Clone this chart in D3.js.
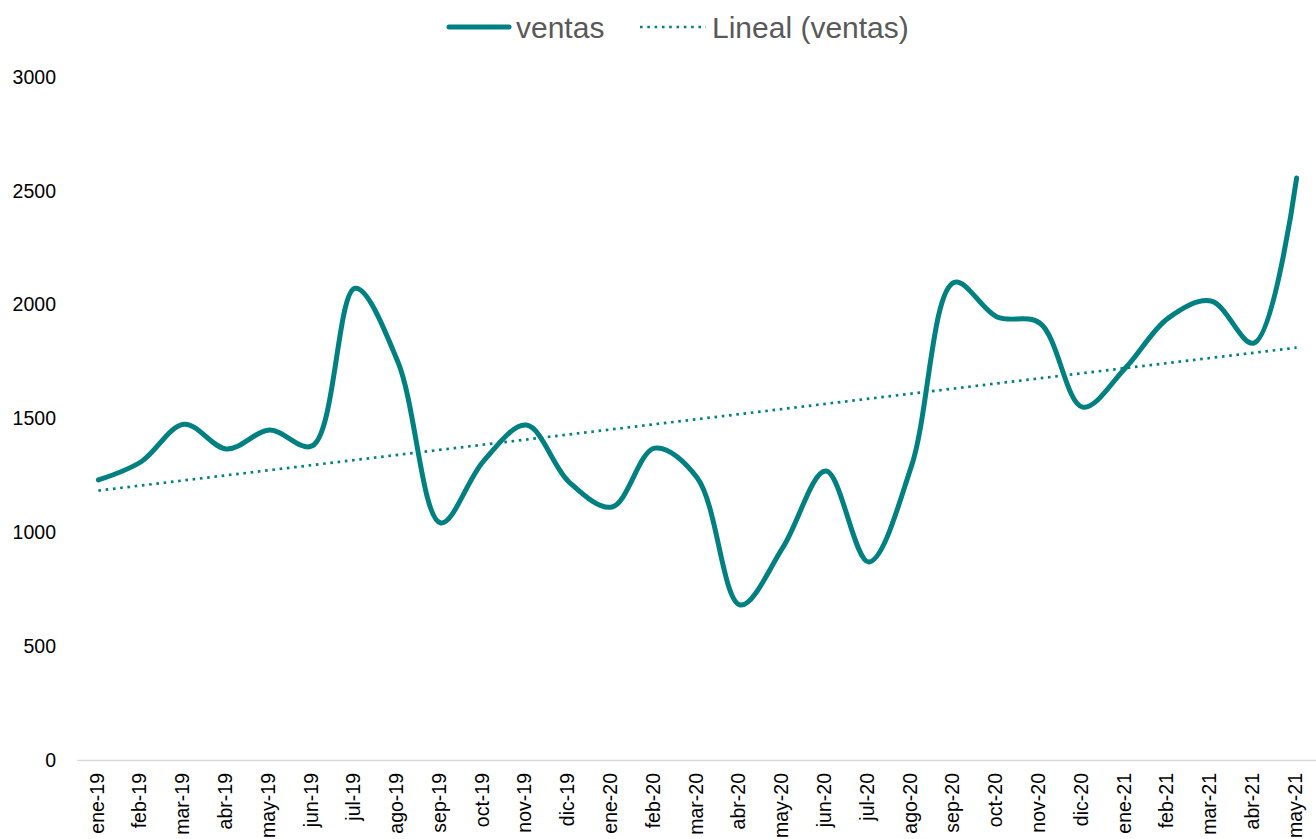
<!DOCTYPE html>
<html>
<head>
<meta charset="utf-8">
<script src="https://cdn.jsdelivr.net/npm/d3@7"></script>
<style>
  body { margin: 0; background: #fff; }
  svg { display: block; font-family: "Liberation Sans", Arial, sans-serif; }
</style>
</head>
<body>
<script>
'use strict';

// months on the category axis
const months = ["ene-19", "feb-19", "mar-19", "abr-19", "may-19", "jun-19", "jul-19", "ago-19",
  "sep-19", "oct-19", "nov-19", "dic-19", "ene-20", "feb-20", "mar-20", "abr-20", "may-20",
  "jun-20", "jul-20", "ago-20", "sep-20", "oct-20", "nov-20", "dic-20", "ene-21", "feb-21",
  "mar-21", "abr-21", "may-21"];

// ventas
const ventas = [1230, 1310, 1475, 1366, 1449, 1380, 2072, 1748, 1041, 1313, 1471, 1221,
  1111, 1370, 1238, 681, 935, 1269, 870, 1291, 2098, 1946, 1919, 1550, 1722, 1941, 2016,
  1831, 2556];

const yTicks = [0, 500, 1000, 1500, 2000, 2500, 3000];

const m = { width: 1316, height: 839, left: 77, right: 1318, top: 77, bottom: 760 };
const teal = "#008080";
const font = '"Liberation Sans", Arial, sans-serif';

const svg = d3.select('body')
  .append('svg')
  .attr('width', m.width)
  .attr('height', m.height);

const xScale = d3.scaleBand()
  .domain(months)
  .range([m.left, m.right]);

const yScale = d3.scaleLinear()
  .domain([0, 3000])
  .range([m.bottom, m.top]);

const xMid = (d) => xScale(d) + xScale.bandwidth() / 2;

// y axis labels (no axis line, no gridlines)
const yAxis = d3.axisLeft(yScale).tickValues(yTicks).tickFormat(d3.format('d'))
  .tickSize(0).tickPadding(0);
svg.append('g')
  .attr('transform', 'translate(56, 0)')
  .call(yAxis)
  .call(g => g.select('.domain').remove())
  .selectAll('text')
  .attr('font-size', '19.5px')
  .attr('font-family', font)
  .attr('fill', '#000');

// x axis: light line at 0, rotated labels
const xAxis = d3.axisBottom(xScale).tickSize(0).tickPadding(0);
const gx = svg.append('g')
  .attr('transform', 'translate(0, ' + m.bottom + ')')
  .call(xAxis);
gx.select('.domain').attr('stroke', '#d9d9d9').attr('stroke-width', 1.3);
gx.selectAll('text')
  .attr('font-size', '19.5px')
  .attr('font-family', font)
  .attr('fill', '#000')
  .attr('text-anchor', 'end')
  .attr('dy', null)
  .attr('dominant-baseline', 'middle')
  .attr('transform', 'translate(0, 13) rotate(-90)');

// linear trend (least squares over the ventas series)
const xs = ventas.map((d, i) => i + 1);
const n = ventas.length;
const mx = d3.mean(xs);
const my = d3.mean(ventas);
const slope = d3.sum(xs.map((x, i) => (x - mx) * (ventas[i] - my))) /
  d3.sum(xs.map(x => (x - mx) * (x - mx)));
const intercept = my - slope * mx;
const trend = [months[0], months[n - 1]].map((mo, k) => ({
  mo: mo,
  v: intercept + slope * (k === 0 ? 1 : n)
}));

svg.append('path')
  .datum(trend)
  .attr('fill', 'none')
  .attr('stroke', teal)
  .attr('stroke-width', 2.7)
  .attr('stroke-dasharray', '2.6 4.7')
  .attr('d', d3.line().x(d => xMid(d.mo)).y(d => yScale(d.v)));

// smoothed sales line
const line = d3.line()
  .x((d, i) => xMid(months[i]))
  .y(d => yScale(d))
  .curve(d3.curveCatmullRom.alpha(0.5));

svg.append('path')
  .datum(ventas)
  .attr('fill', 'none')
  .attr('stroke', teal)
  .attr('stroke-width', 5)
  .attr('stroke-linecap', 'round')
  .attr('stroke-linejoin', 'round')
  .attr('d', line);

// legend
const legend = svg.append('g').attr('font-family', font);
legend.append('line')
  .attr('x1', 449).attr('x2', 509).attr('y1', 27).attr('y2', 27)
  .attr('stroke', teal).attr('stroke-width', 5).attr('stroke-linecap', 'round');
legend.append('text')
  .attr('x', 516).attr('y', 27)
  .attr('dominant-baseline', 'central')
  .attr('font-size', '30px').attr('fill', '#595959')
  .text('ventas');
legend.append('line')
  .attr('x1', 640).attr('x2', 706).attr('y1', 27).attr('y2', 27)
  .attr('stroke', teal).attr('stroke-width', 2.7).attr('stroke-dasharray', '2.6 4.7');
legend.append('text')
  .attr('x', 712).attr('y', 27)
  .attr('dominant-baseline', 'central')
  .attr('font-size', '30px').attr('fill', '#595959')
  .text('Lineal (ventas)');
</script>
</body>
</html>
